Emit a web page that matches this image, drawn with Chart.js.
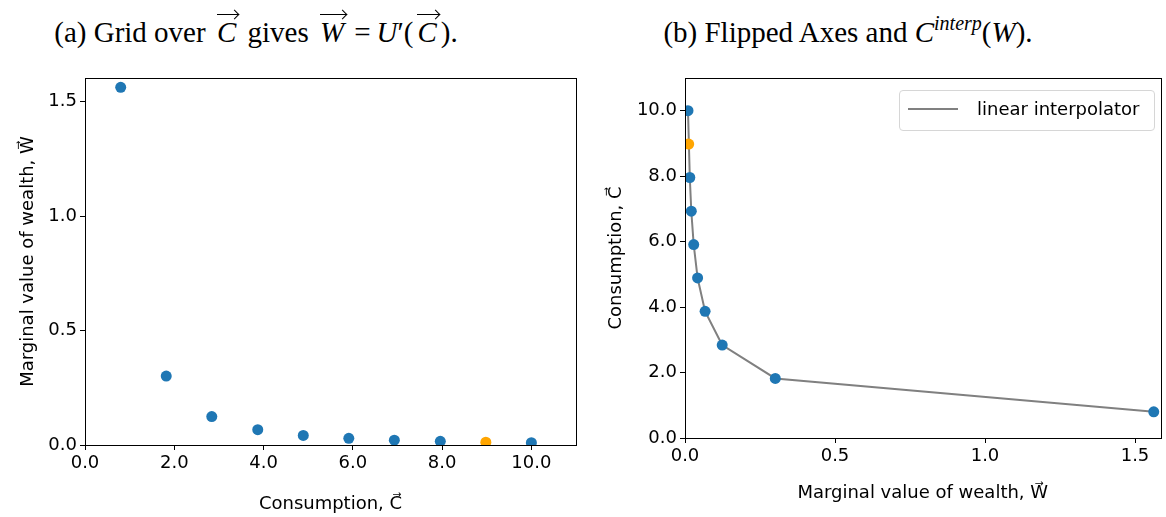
<!DOCTYPE html>
<html>
<head>
<meta charset="utf-8">
<script src="https://cdn.jsdelivr.net/npm/chart.js@4.4.1/dist/chart.umd.min.js"></script>
<style>
  body { margin: 0; background: #fff; width: 1166px; height: 517px; position: relative; overflow: hidden; }
  canvas { position: absolute; top: 60px; }
  .caption { position: absolute; top: 15px; width: 600px; text-align: center; line-height: 34px;
             font-family: "Liberation Serif", "DejaVu Serif", serif; font-size: 29px; color: #000; white-space: nowrap; }
  .caption i { font-style: italic; }
  .caption sup { font-size: 20px; line-height: 0; vertical-align: 0; position: relative; top: -12px; }
  .vec { position: relative; display: inline-block; margin: 0 4px; }
  .vec::before { content: ""; position: absolute; left: 0px; right: -3px; top: -1px; border-top: 1.4px solid #000; }
  .vec::after { content: ""; position: absolute; right: -2px; top: -4px; width: 6px; height: 6px;
                border-top: 1.4px solid #000; border-right: 1.4px solid #000; transform: rotate(45deg); }
  .op { margin: 0 6px; }
  #legend { position: absolute; left: 899px; top: 90px; width: 254px; height: 39px; border: 1px solid #d6d6d6;
            border-radius: 4px; background: rgba(255,255,255,0.8); font-family: "DejaVu Sans", sans-serif; font-size: 18px; }
  #legend .swatch { position: absolute; left: 8px; top: 17px; width: 50px; border-top: 2px solid #808080; }
  #legend span { position: absolute; left: 77px; top: 7px; }
</style>
</head>
<body>
<div class="caption" style="left: -44px;">(a) Grid over <i class="vec">C</i> gives <i class="vec">W</i><span class="op">=</span><i>U</i>′(<i class="vec">C</i>).</div>
<div class="caption" style="left: 548px;">(b) Flipped Axes and <i>C</i><sup><i>interp</i></sup>(<i>W</i>).</div>
<canvas id="gridChart" width="583" height="457" style="left:0px"></canvas>
<canvas id="flipChart" width="583" height="457" style="left:583px"></canvas>
<div id="legend"><div class="swatch"></div><span>linear interpolator</span></div>
<script>
// Consumption grid (blue points) and the evaluated point (orange)
const consumo = [0.80, 1.82, 2.84, 3.87, 4.89, 5.91, 6.93, 7.96, 10.0];
const margVal = [1.5625, 0.301, 0.124, 0.067, 0.042, 0.029, 0.021, 0.016, 0.010];
const consumoTitik = [8.98];
const margValTitik = [0.0124];

const biru = "#1f77b4";
const oranye = "#ffa500";
const abu = "#808080";
const hitam = "#000";

function toPoints(xs, ys) {
  return xs.map((x, i) => ({ x: x, y: ys[i] }));
}

// Plugin kotak sumbu (spine atas & kanan)
const kotakSumbu = {
  id: "kotakSumbu",
  afterDraw(chart) {
    const { ctx, chartArea: a } = chart;
    ctx.save();
    ctx.strokeStyle = hitam;
    ctx.lineWidth = 1;
    ctx.strokeRect(Math.round(a.left) + 0.5, Math.round(a.top) + 0.5,
                   Math.round(a.right - a.left), Math.round(a.bottom - a.top));
    ctx.restore();
  }
};

function skala(opt) {
  return {
    type: "linear",
    position: opt.position,
    min: opt.min,
    max: opt.max,
    ticks: {
      stepSize: opt.step,
      includeBounds: false,
      color: hitam,
      padding: 3,
      font: { family: "DejaVu Sans", size: 18 },
      callback: v => v.toFixed(1)
    },
    grid: { display: true, drawOnChartArea: false, drawTicks: true, tickLength: 5, tickColor: hitam, color: hitam },
    border: { display: true, color: hitam, width: 1 },
    title: {
      display: true,
      text: opt.title,
      color: hitam,
      font: { family: "DejaVu Sans", size: 18 },
      padding: opt.titlePad
    },
    afterFit: opt.fit
  };
}

function opsiUmum(padding, scales) {
  return {
    responsive: false,
    animation: false,
    devicePixelRatio: 1,
    layout: { padding: padding },
    plugins: { legend: { display: false }, tooltip: { enabled: false } },
    scales: scales
  };
}

// (a) W terhadap C
new Chart(document.getElementById("gridChart"), {
  type: "scatter",
  data: {
    datasets: [
      { data: toPoints(consumoTitik, margValTitik), backgroundColor: oranye, pointRadius: 5.5, borderWidth: 0 },
      { data: toPoints(consumo, margVal), backgroundColor: biru, pointRadius: 5.5, borderWidth: 0 }
    ]
  },
  options: opsiUmum({ top: 18, right: 7, left: 0, bottom: 0 }, {
    x: skala({ position: "bottom", min: 0, max: 11, step: 2, title: "Consumption, C\u20D7",
               titlePad: { top: 0, bottom: 2 }, fit: s => { s.height = 72; } }),
    y: skala({ position: "left", min: 0, max: 1.603, step: 0.5, title: "Marginal value of wealth, W\u20D7",
               titlePad: { top: 18, bottom: 0 }, fit: s => { s.width = 85; } })
  }),
  plugins: [kotakSumbu]
});

// (b) sumbu dibalik, C terhadap W dengan interpolasi linear
new Chart(document.getElementById("flipChart"), {
  type: "scatter",
  data: {
    datasets: [
      { data: toPoints(margValTitik, consumoTitik), backgroundColor: oranye, pointRadius: 5.5, borderWidth: 0 },
      { data: toPoints(margVal, consumo), backgroundColor: biru, pointRadius: 5.5, borderWidth: 0 },
      { data: toPoints(margVal, consumo), showLine: true, borderColor: abu, borderWidth: 2, pointRadius: 0, fill: false }
    ]
  },
  options: opsiUmum({ top: 18, right: 4, left: 0, bottom: 0 }, {
    x: skala({ position: "bottom", min: 0, max: 1.585, step: 0.5, title: "Marginal value of wealth, W\u20D7",
               titlePad: { top: 0, bottom: 13 }, fit: s => { s.height = 79; } }),
    y: skala({ position: "left", min: 0, max: 11, step: 2, title: "Consumption, C\u20D7",
               titlePad: { top: 23, bottom: 0 }, fit: s => { s.width = 102; } })
  }),
  plugins: [kotakSumbu]
});
</script>
</body>
</html>
